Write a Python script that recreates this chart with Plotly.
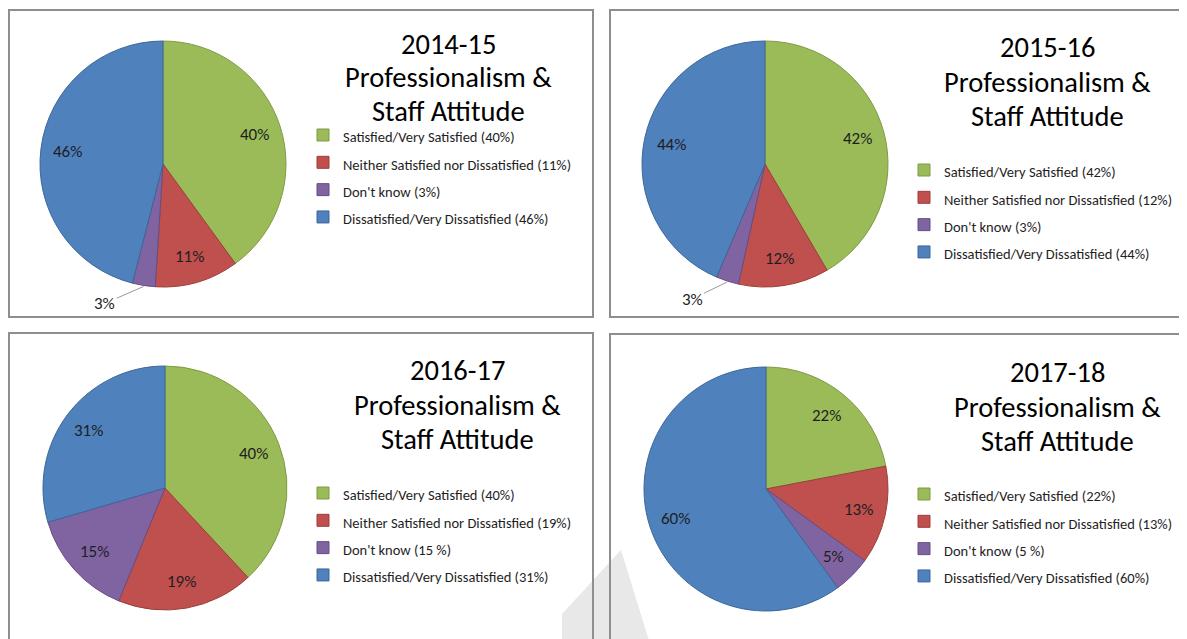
import math
import plotly.graph_objects as go

# The page body has an 8px margin, so the figure starts at (8, 8) in the window.
OFF = 8
W, H = 1187 - OFF, 639 - OFF

# ---------------- data ----------------
years = ["2014-15", "2015-16", "2016-17", "2017-18"]
categories = ["Satisfied/Very Satisfied", "Neither Satisfied nor Dissatisfied",
              "Don't know", "Dissatisfied/Very Dissatisfied"]
values_2014_15 = [40, 11, 3, 46]
values_2015_16 = [42, 12, 3, 44]
values_2016_17 = [40, 19, 15, 31]
values_2017_18 = [22, 13, 5, 60]
# legend texts as printed on each chart
legend_2014_15 = ["Satisfied/Very Satisfied (40%)", "Neither Satisfied nor Dissatisfied (11%)",
                  "Don't know (3%)", "Dissatisfied/Very Dissatisfied (46%)"]
legend_2015_16 = ["Satisfied/Very Satisfied (42%)", "Neither Satisfied nor Dissatisfied (12%)",
                  "Don't know (3%)", "Dissatisfied/Very Dissatisfied (44%)"]
legend_2016_17 = ["Satisfied/Very Satisfied (40%)", "Neither Satisfied nor Dissatisfied (19%)",
                  "Don't know (15 %)", "Dissatisfied/Very Dissatisfied (31%)"]
legend_2017_18 = ["Satisfied/Very Satisfied (22%)", "Neither Satisfied nor Dissatisfied (13%)",
                  "Don't know (5 %)", "Dissatisfied/Very Dissatisfied (60%)"]
title_lines = ["Professionalism &", "Staff Attitude"]

slice_colors = ["#9BBB59", "#C0504D", "#8064A2", "#4F81BD"]
slice_lines = ["#7D9A44", "#9C3F3C", "#654E84", "#3D6798"]

FONT = "Calibri, Carlito, Lato, sans-serif"
LABEL_R = 0.78      # data labels sit at this fraction of the radius
TITLE_SIZE = 28.5
LEG_TEXT = ["14.5px", "14.50px", "14.500px", "14.5000px"]  # distinct tags keep each chart's labels apart

# ---------------- layout of the four panels (window pixels) ----------------
panels = [
    dict(year=years[0], values=values_2014_15, legend=legend_2014_15,
         pie=(163, 164, 123), title=(448, 78), gap=33.5, leg=(343, 136), outside=2, off=(-39, 17),
         box=(9, 10, 593, 317)),
    dict(year=years[1], values=values_2015_16, legend=legend_2015_16,
         pie=(765, 164, 123), title=(1047, 82), gap=34.5, leg=(944, 171), outside=2, off=(-35, 17),
         box=(610, 10, 1200, 317)),
    dict(year=years[2], values=values_2016_17, legend=legend_2016_17,
         pie=(165, 488, 122), title=(457, 405), gap=34.5, leg=(343, 494), outside=None, off=None,
         box=(9, 333, 593, 650)),
    dict(year=years[3], values=values_2017_18, legend=legend_2017_18,
         pie=(766, 489, 122), title=(1057, 407), gap=34.5, leg=(944, 495), outside=None, off=None,
         box=(610, 334, 1200, 650)),
]


def px(x):
    return (x - OFF) / W


def py(y):
    return 1 - (y - OFF) / H


fig = go.Figure()
shapes = []
annotations = []
layout_legends = {}

# panel fills
for p in panels:
    x0, y0, x1, y1 = p["box"]
    shapes.append(dict(type="rect", xref="paper", yref="paper", layer="below",
                       x0=px(x0), x1=px(x1), y0=py(y1), y1=py(y0),
                       fillcolor="white", line=dict(width=0)))
# faint grey page shadow between the lower panels
shapes.append(dict(type="path", xref="paper", yref="paper", layer="below",
                   path="M {:.4f},{:.4f} L {:.4f},{:.4f} L {:.4f},{:.4f} L {:.4f},{:.4f} Z".format(
                       px(562), py(650), px(562), py(614), px(621), py(550), px(652), py(650)),
                   fillcolor="#E8E8E8", line=dict(width=0)))
# panel borders
for p in panels:
    x0, y0, x1, y1 = p["box"]
    shapes.append(dict(type="rect", xref="paper", yref="paper", layer="below",
                       x0=px(x0), x1=px(x1), y0=py(y1), y1=py(y0),
                       fillcolor="rgba(0,0,0,0)", line=dict(color="#8E8E8E", width=2)))

for i, p in enumerate(panels):
    cx, cy, r = p["pie"]
    vals = p["values"]
    total = float(sum(vals))
    legend_id = "legend" if i == 0 else "legend%d" % (i + 1)
    fig.add_trace(go.Pie(
        labels=["<span style='font-size:%s'>%s</span>" % (LEG_TEXT[i], t) for t in p["legend"]],
        values=vals,
        textinfo="none",
        marker=dict(colors=slice_colors, line=dict(color=slice_lines, width=1)),
        sort=False,
        direction="clockwise",
        rotation=0,
        domain=dict(x=[px(cx - r), px(cx + r)], y=[py(cy + r), py(cy - r)]),
        legend=legend_id,
        hoverinfo="label+value",
        showlegend=True,
    ))
    lx, ly = p["leg"]
    layout_legends[legend_id] = dict(
        x=px(lx - 40), y=py(ly - 18.65 - 1), xanchor="left", yanchor="top",
        bgcolor="rgba(0,0,0,0)", borderwidth=0,
        font=dict(family=FONT, size=18.7, color="#1E1E1E"),
        traceorder="normal",
    )
    tx, ty = p["title"]
    for j, line in enumerate([p["year"]] + title_lines):
        annotations.append(dict(
            xref="paper", yref="paper", x=px(tx), y=py(ty + (j - 1) * p["gap"]),
            xanchor="center", yanchor="middle",
            text=line, showarrow=False, align="center",
            font=dict(family=FONT, size=TITLE_SIZE, color="#000000"),
        ))
    # data labels placed from each slice's mid-angle
    for k, v in enumerate(vals):
        mid = (sum(vals[:k]) + v / 2.0) / total
        ang = 2 * math.pi * mid
        if k == p["outside"]:
            ex = cx + (r + 1) * math.sin(ang)
            ey = cy - (r + 1) * math.cos(ang)
            annotations.append(dict(
                xref="paper", yref="paper", x=px(ex), y=py(ey),
                text="%d%%" % v, showarrow=True, arrowhead=0, arrowwidth=0.8,
                arrowcolor="#7F7F7F", ax=p["off"][0], ay=p["off"][1], standoff=0,
                font=dict(family=FONT, size=17, color="#1E1E1E"),
            ))
        else:
            lxp = cx + LABEL_R * r * math.sin(ang)
            lyp = cy - LABEL_R * r * math.cos(ang)
            annotations.append(dict(
                xref="paper", yref="paper", x=px(lxp), y=py(lyp),
                xanchor="center", yanchor="middle", showarrow=False,
                text="%d%%" % v,
                font=dict(family=FONT, size=17, color="#1E1E1E"),
            ))

fig.update_layout(
    width=W, height=H,
    margin=dict(l=0, r=0, t=0, b=0),
    paper_bgcolor="white", plot_bgcolor="white",
    shapes=shapes, annotations=annotations,
    **layout_legends,
)

fig.write_html("out.html")
